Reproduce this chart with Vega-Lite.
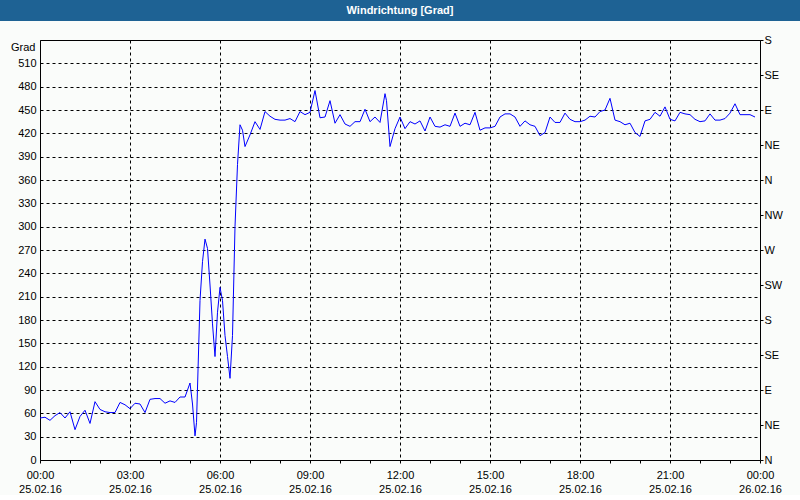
{
  "$schema": "https://vega.github.io/schema/vega-lite/v6.json",
  "background": "#fafcfa",
  "padding": 0,
  "spacing": 19,
  "bounds": "flush",
  "center": true,
  "config": {
    "font": "Liberation Sans",
    "view": {"stroke": null},
    "axis": {
      "labelFont": "Liberation Sans",
      "labelFontSize": 11,
      "labelColor": "black",
      "titleFont": "Liberation Sans",
      "titleFontSize": 11,
      "titleFontWeight": "normal",
      "titleColor": "black",
      "domain": false,
      "tickColor": "black",
      "gridColor": "black",
      "gridDash": [3, 3],
      "gridWidth": 1,
      "gridOpacity": 1,
      "labelOverlap": false
    }
  },
  "vconcat": [
    {
      "width": 800,
      "height": 21,
      "view": {"fill": "#1e6294", "stroke": null},
      "data": {"values": [{"label": "Windrichtung [Grad]"}]},
      "mark": {"type": "text", "color": "white", "fontWeight": "bold", "fontSize": 11, "font": "Liberation Sans"},
      "encoding": {"text": {"field": "label", "type": "nominal"}}
    },
    {
      "width": 720,
      "height": 420,
      "view": {"stroke": "black", "strokeWidth": 1},
      "data": {"values": [
        {"t": "2016-02-25T00:00", "v": 54},
        {"t": "2016-02-25T00:10", "v": 55},
        {"t": "2016-02-25T00:20", "v": 51},
        {"t": "2016-02-25T00:30", "v": 57},
        {"t": "2016-02-25T00:40", "v": 61},
        {"t": "2016-02-25T00:50", "v": 54},
        {"t": "2016-02-25T01:00", "v": 62},
        {"t": "2016-02-25T01:10", "v": 39},
        {"t": "2016-02-25T01:20", "v": 56},
        {"t": "2016-02-25T01:30", "v": 64},
        {"t": "2016-02-25T01:40", "v": 47},
        {"t": "2016-02-25T01:50", "v": 75},
        {"t": "2016-02-25T02:00", "v": 65},
        {"t": "2016-02-25T02:10", "v": 62},
        {"t": "2016-02-25T02:20", "v": 61},
        {"t": "2016-02-25T02:30", "v": 61},
        {"t": "2016-02-25T02:40", "v": 74},
        {"t": "2016-02-25T02:50", "v": 71},
        {"t": "2016-02-25T03:00", "v": 66},
        {"t": "2016-02-25T03:10", "v": 73},
        {"t": "2016-02-25T03:20", "v": 72},
        {"t": "2016-02-25T03:30", "v": 61},
        {"t": "2016-02-25T03:40", "v": 78},
        {"t": "2016-02-25T03:50", "v": 79},
        {"t": "2016-02-25T04:00", "v": 79},
        {"t": "2016-02-25T04:10", "v": 73},
        {"t": "2016-02-25T04:20", "v": 76},
        {"t": "2016-02-25T04:30", "v": 74},
        {"t": "2016-02-25T04:40", "v": 81},
        {"t": "2016-02-25T04:50", "v": 81},
        {"t": "2016-02-25T05:00", "v": 99},
        {"t": "2016-02-25T05:05", "v": 72},
        {"t": "2016-02-25T05:10", "v": 31},
        {"t": "2016-02-25T05:13", "v": 48},
        {"t": "2016-02-25T05:20", "v": 205},
        {"t": "2016-02-25T05:25", "v": 255},
        {"t": "2016-02-25T05:30", "v": 284},
        {"t": "2016-02-25T05:35", "v": 272},
        {"t": "2016-02-25T05:40", "v": 225},
        {"t": "2016-02-25T05:45", "v": 175},
        {"t": "2016-02-25T05:50", "v": 133},
        {"t": "2016-02-25T05:55", "v": 190},
        {"t": "2016-02-25T06:00", "v": 222},
        {"t": "2016-02-25T06:05", "v": 205},
        {"t": "2016-02-25T06:10", "v": 160},
        {"t": "2016-02-25T06:15", "v": 133},
        {"t": "2016-02-25T06:20", "v": 105},
        {"t": "2016-02-25T06:25", "v": 160},
        {"t": "2016-02-25T06:30", "v": 300},
        {"t": "2016-02-25T06:35", "v": 380},
        {"t": "2016-02-25T06:40", "v": 431},
        {"t": "2016-02-25T06:45", "v": 424},
        {"t": "2016-02-25T06:50", "v": 403},
        {"t": "2016-02-25T07:00", "v": 418},
        {"t": "2016-02-25T07:10", "v": 435},
        {"t": "2016-02-25T07:20", "v": 425},
        {"t": "2016-02-25T07:30", "v": 448},
        {"t": "2016-02-25T07:40", "v": 442},
        {"t": "2016-02-25T07:50", "v": 438},
        {"t": "2016-02-25T08:00", "v": 437},
        {"t": "2016-02-25T08:10", "v": 437},
        {"t": "2016-02-25T08:20", "v": 439},
        {"t": "2016-02-25T08:30", "v": 435},
        {"t": "2016-02-25T08:40", "v": 448},
        {"t": "2016-02-25T08:50", "v": 444},
        {"t": "2016-02-25T09:00", "v": 447},
        {"t": "2016-02-25T09:10", "v": 475},
        {"t": "2016-02-25T09:20", "v": 440},
        {"t": "2016-02-25T09:30", "v": 441},
        {"t": "2016-02-25T09:40", "v": 462},
        {"t": "2016-02-25T09:50", "v": 433},
        {"t": "2016-02-25T10:00", "v": 444},
        {"t": "2016-02-25T10:10", "v": 432},
        {"t": "2016-02-25T10:20", "v": 429},
        {"t": "2016-02-25T10:30", "v": 435},
        {"t": "2016-02-25T10:40", "v": 435},
        {"t": "2016-02-25T10:50", "v": 451},
        {"t": "2016-02-25T11:00", "v": 435},
        {"t": "2016-02-25T11:10", "v": 441},
        {"t": "2016-02-25T11:20", "v": 434},
        {"t": "2016-02-25T11:30", "v": 471},
        {"t": "2016-02-25T11:33", "v": 462},
        {"t": "2016-02-25T11:40", "v": 403},
        {"t": "2016-02-25T11:50", "v": 426},
        {"t": "2016-02-25T12:00", "v": 441},
        {"t": "2016-02-25T12:10", "v": 426},
        {"t": "2016-02-25T12:20", "v": 435},
        {"t": "2016-02-25T12:30", "v": 432},
        {"t": "2016-02-25T12:40", "v": 436},
        {"t": "2016-02-25T12:50", "v": 423},
        {"t": "2016-02-25T13:00", "v": 441},
        {"t": "2016-02-25T13:10", "v": 429},
        {"t": "2016-02-25T13:20", "v": 428},
        {"t": "2016-02-25T13:30", "v": 431},
        {"t": "2016-02-25T13:40", "v": 429},
        {"t": "2016-02-25T13:50", "v": 446},
        {"t": "2016-02-25T14:00", "v": 429},
        {"t": "2016-02-25T14:10", "v": 433},
        {"t": "2016-02-25T14:20", "v": 431},
        {"t": "2016-02-25T14:30", "v": 447},
        {"t": "2016-02-25T14:40", "v": 424},
        {"t": "2016-02-25T14:50", "v": 427},
        {"t": "2016-02-25T15:00", "v": 427},
        {"t": "2016-02-25T15:10", "v": 429},
        {"t": "2016-02-25T15:20", "v": 441},
        {"t": "2016-02-25T15:30", "v": 445},
        {"t": "2016-02-25T15:40", "v": 445},
        {"t": "2016-02-25T15:50", "v": 441},
        {"t": "2016-02-25T16:00", "v": 429},
        {"t": "2016-02-25T16:10", "v": 436},
        {"t": "2016-02-25T16:20", "v": 431},
        {"t": "2016-02-25T16:30", "v": 429},
        {"t": "2016-02-25T16:40", "v": 417},
        {"t": "2016-02-25T16:50", "v": 421},
        {"t": "2016-02-25T17:00", "v": 441},
        {"t": "2016-02-25T17:10", "v": 434},
        {"t": "2016-02-25T17:20", "v": 434},
        {"t": "2016-02-25T17:30", "v": 446},
        {"t": "2016-02-25T17:40", "v": 438},
        {"t": "2016-02-25T17:50", "v": 435},
        {"t": "2016-02-25T18:00", "v": 435},
        {"t": "2016-02-25T18:10", "v": 437},
        {"t": "2016-02-25T18:20", "v": 442},
        {"t": "2016-02-25T18:30", "v": 441},
        {"t": "2016-02-25T18:40", "v": 448},
        {"t": "2016-02-25T18:50", "v": 450},
        {"t": "2016-02-25T19:00", "v": 465},
        {"t": "2016-02-25T19:10", "v": 437},
        {"t": "2016-02-25T19:20", "v": 435},
        {"t": "2016-02-25T19:30", "v": 431},
        {"t": "2016-02-25T19:40", "v": 433},
        {"t": "2016-02-25T19:50", "v": 421},
        {"t": "2016-02-25T20:00", "v": 416},
        {"t": "2016-02-25T20:10", "v": 436},
        {"t": "2016-02-25T20:20", "v": 438},
        {"t": "2016-02-25T20:30", "v": 447},
        {"t": "2016-02-25T20:40", "v": 442},
        {"t": "2016-02-25T20:50", "v": 454},
        {"t": "2016-02-25T21:00", "v": 438},
        {"t": "2016-02-25T21:10", "v": 436},
        {"t": "2016-02-25T21:20", "v": 447},
        {"t": "2016-02-25T21:30", "v": 445},
        {"t": "2016-02-25T21:40", "v": 444},
        {"t": "2016-02-25T21:50", "v": 438},
        {"t": "2016-02-25T22:00", "v": 435},
        {"t": "2016-02-25T22:10", "v": 436},
        {"t": "2016-02-25T22:20", "v": 445},
        {"t": "2016-02-25T22:30", "v": 437},
        {"t": "2016-02-25T22:40", "v": 437},
        {"t": "2016-02-25T22:50", "v": 439},
        {"t": "2016-02-25T23:00", "v": 446},
        {"t": "2016-02-25T23:10", "v": 458},
        {"t": "2016-02-25T23:20", "v": 444},
        {"t": "2016-02-25T23:30", "v": 444},
        {"t": "2016-02-25T23:40", "v": 444},
        {"t": "2016-02-25T23:50", "v": 441}
      ]},
      "layer": [
        {
          "mark": {"type": "line", "color": "#0000ff", "strokeWidth": 1},
          "encoding": {
            "x": {
              "field": "t", "type": "temporal",
              "scale": {"domain": ["2016-02-25T00:00", "2016-02-26T00:00"], "nice": false},
              "axis": {
                "title": null,
                "tickCount": 24,
                "tickSize": 3,
                "labelPadding": 6,
                "labelLineHeight": 14,
                "labelFlush": false,
                "labelExpr": "hours(datum.value) % 3 == 0 ? [timeFormat(datum.value, '%H:%M'), timeFormat(datum.value, '%d.%m.%y')] : ''",
                "gridOpacity": {"condition": {"test": "hours(datum.value) % 3 == 0", "value": 1}, "value": 0}
              }
            },
            "y": {
              "field": "v", "type": "quantitative",
              "scale": {"domain": [0, 540], "nice": false},
              "axis": {
                "values": [0, 30, 60, 90, 120, 150, 180, 210, 240, 270, 300, 330, 360, 390, 420, 450, 480, 510],
                "ticks": false,
                "labelPadding": 4,
                "title": "Grad",
                "titleAngle": 0,
                "titleAlign": "right",
                "titleBaseline": "top",
                "titleAnchor": "end",
                "titleX": -5,
                "titleY": 1
              }
            }
          }
        },
        {
          "mark": {"type": "line", "opacity": 0},
          "encoding": {
            "x": {"field": "t", "type": "temporal"},
            "y": {
              "field": "v", "type": "quantitative",
              "scale": {"domain": [0, 540], "nice": false},
              "axis": {
                "orient": "right",
                "title": null,
                "grid": false,
                "values": [0, 45, 90, 135, 180, 225, 270, 315, 360, 405, 450, 495, 540],
                "tickSize": 3,
                "labelPadding": 1,
                "labelAlign": "left",
                "labelExpr": "datum.value % 360 == 0 ? 'N' : datum.value % 360 == 45 ? 'NE' : datum.value % 360 == 90 ? 'E' : datum.value % 360 == 135 ? 'SE' : datum.value % 360 == 180 ? 'S' : datum.value % 360 == 225 ? 'SW' : datum.value % 360 == 270 ? 'W' : 'NW'"
              }
            }
          }
        }
      ],
      "resolve": {"scale": {"y": "independent"}}
    }
  ]
}
